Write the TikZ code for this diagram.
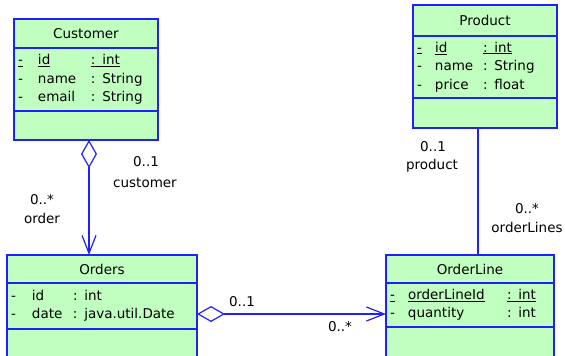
\documentclass[tikz,border=0pt]{standalone}
\usepackage{fontspec}
\setmainfont{DejaVu Sans}
\usetikzlibrary{arrows.meta,positioning}
\definecolor{umlblue}{RGB}{32,32,255}
\definecolor{umlgreen}{RGB}{192,255,192}

\begin{document}
\begin{tikzpicture}[x=1pt, y=-1pt,
  font=\fontsize{13.5}{18.5}\selectfont,
  cls/.style={draw=umlblue, fill=umlgreen, line width=1.4pt, outer sep=0pt,
              inner sep=0pt, minimum width=#1},
  attrs/.style={cls=#1, inner xsep=4pt, align=left},
  assoc/.style={draw=umlblue, line width=1.2pt},
  aggr/.style={assoc, {Diamond[open,length=28pt,width=16pt]}-{Straight Barb[length=18pt,width=14pt]}},
  mult/.style={inner sep=0pt}]
 \useasboundingbox (0,0) rectangle (565,356);
 \clip (0,0) rectangle (565,356);
 % Customer
 \node[cls=144pt, minimum height=29pt] (cust) at (86,33.5) {Customer};
 \node[attrs=144pt, text width=136pt, minimum height=63pt, below=0pt of cust] (custattr)
      {\begin{tabular}{@{}p{20pt}@{}p{53pt}@{}l@{}}
       \underline{-} & \underline{id} & \underline{: int}\\
       - & name & : String\\
       - & email & : String
       \end{tabular}};
 \node[cls=144pt, minimum height=29pt, below=0pt of custattr] (custops) {};
 % Product
 \node[cls=144pt, minimum height=31pt] (prod) at (485,20.5) {Product};
 \node[attrs=144pt, text width=136pt, minimum height=62pt, below=0pt of prod] (prodattr)
      {\begin{tabular}{@{}p{18pt}@{}p{48pt}@{}l@{}}
       \underline{-} & \underline{id} & \underline{: int}\\
       - & name & : String\\
       - & price & : float
       \end{tabular}};
 \node[cls=144pt, minimum height=30pt, below=0pt of prodattr] (prodops) {};
 % Orders
 \node[cls=190pt, minimum height=28pt] (ord) at (102,269) {Orders};
 \node[attrs=190pt, text width=182pt, minimum height=46pt, below=0pt of ord] (ordattr)
      {\begin{tabular}{@{}p{21pt}@{}p{41pt}@{}l@{}}
       - & id & : int\\
       - & date & : java.util.Date
       \end{tabular}};
 \node[cls=190pt, minimum height=30pt, below=0pt of ordattr] (ordops) {};
 % OrderLine
 \node[cls=168pt, minimum height=28pt] (ol) at (470,269) {OrderLine};
 \node[attrs=168pt, text width=160pt, minimum height=44pt, below=0pt of ol] (olattr)
      {\begin{tabular}{@{}p{18pt}@{}p{99pt}@{}l@{}}
       \underline{-} & \underline{orderLineId} & \underline{: int}\\
       - & quantity & : int
       \end{tabular}};
 \node[cls=168pt, minimum height=30pt, below=0pt of olattr] (olops) {};
 % associations
 \draw[aggr] ([xshift=3pt]custops.south) -- ([xshift=3pt]custops.south |- ord.north);
 \draw[aggr] ([yshift=-8pt]ordattr.east) -- ([yshift=-8pt]ordattr.east -| olattr.west);
 \draw[assoc] ([xshift=-7pt]prodops.south) -- ([xshift=-7pt]prodops.south |- ol.north);
 % multiplicities and roles
 \node[mult] (custmin) at (146,162) {0..1};
 \node[mult] (custrole) at (145,183) {customer};
 \node[mult] (ordmin) at (42,200) {0..*};
 \node[mult] (ordrole) at (42,218) {order};
 \node[mult] (prodmin) at (433,147) {0..1};
 \node[mult] (prodrole) at (432,166) {product};
 \node[mult] (olmin) at (527,209) {0..*};
 \node[mult] (olrole) at (527,227) {orderLines};
 \node[mult] (aggmin) at (242,302) {0..1};
 \node[mult] (aggmax) at (340,327) {0..*};
\end{tikzpicture}
\end{document}
